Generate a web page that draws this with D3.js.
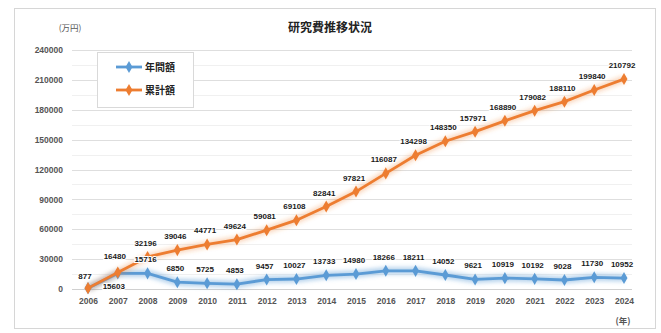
<!DOCTYPE html>
<html><head><meta charset="utf-8">
<script src="https://cdn.jsdelivr.net/npm/d3@7"></script>
<style>
html,body{margin:0;padding:0;background:#fff;}
svg{display:block;font-family:"Noto Sans CJK JP","Noto Sans",sans-serif;}
</style></head>
<body><svg id="chart" width="661" height="333"></svg>
<script>
// Years on the category axis
const years = [2006,2007,2008,2009,2010,2011,2012,2013,2014,2015,2016,2017,2018,2019,2020,2021,2022,2023,2024];
// Research funding received each year (万円)
const annual = [877,15603,15716,6850,5725,4853,9457,10027,13733,14980,18266,18211,14052,9621,10919,10192,9028,11730,10952];
// Running total (万円)
const cumulative = [877,16480,32196,39046,44771,49624,59081,69108,82841,97821,116087,134298,148350,157971,168890,179082,188110,199840,210792];
const yTicks = [0,30000,60000,90000,120000,150000,180000,210000,240000];
const yMinor = [15000,45000,75000,105000,135000,165000,195000,225000];
const seriesNames = ["年間額","累計額"];
const seriesColors = ["#5b9bd5","#ed7d31"];

const svg = d3.select("#chart");

// Outer frame
svg.append("rect").attr("x",14.5).attr("y",8.5).attr("width",641).attr("height",320)
  .attr("fill","#fff").attr("stroke","#d6d6d6");

const x = d3.scaleLinear().domain([2006,2024]).range([88,624]);
const y = d3.scaleLinear().domain([0,240000]).range([289,50]);
const gx0 = 72, gx1 = 632;

// Minor and major gridlines
svg.append("g").selectAll("line").data(yMinor).join("line")
  .attr("x1",gx0).attr("x2",gx1).attr("y1",d=>Math.round(y(d))+0.5).attr("y2",d=>Math.round(y(d))+0.5)
  .attr("stroke","#f0f0f0");
svg.append("g").selectAll("line").data(yTicks.filter(d=>d>0)).join("line")
  .attr("x1",gx0).attr("x2",gx1).attr("y1",d=>Math.round(y(d))+0.5).attr("y2",d=>Math.round(y(d))+0.5)
  .attr("stroke","#dedede");

// Y axis labels
const yAxis = d3.axisLeft(y).tickValues(yTicks).tickSize(0).tickPadding(0).tickFormat(d=>String(d));
const yg = svg.append("g").attr("transform","translate(63,0)").call(yAxis);
yg.select(".domain").remove();
yg.selectAll("text").attr("fill","#555").attr("font-size",8.5).attr("font-weight","bold")
  .attr("font-family","'Liberation Sans',sans-serif");

// X axis: baseline and year labels
const xAxis = d3.axisBottom(x).tickValues(years).tickSize(0).tickPadding(9).tickFormat(d=>String(d));
const xg = svg.append("g").attr("transform",`translate(0,${y(0)})`).call(xAxis);
xg.select(".domain").attr("d",`M${gx0},0.5H${gx1}`).attr("stroke","#d0d0d0");
xg.selectAll("text").attr("fill","#555").attr("font-size",8.5).attr("font-weight","bold")
  .attr("font-family","'Liberation Sans',sans-serif");

// Title and units
svg.append("text").attr("x",330).attr("y",32).attr("text-anchor","middle")
  .attr("font-size",12).attr("font-weight","bold").attr("fill","#222").text("研究費推移状況");
svg.append("text").attr("x",70).attr("y",31).attr("text-anchor","middle")
  .attr("font-size",8.5).attr("fill","#555").text("(万円)");
svg.append("text").attr("x",623).attr("y",324).attr("text-anchor","middle")
  .attr("font-size",8.5).attr("font-weight","bold").attr("fill","#555").text("(年)");

// Filter for the soft glow around each line
const defs = svg.append("defs");
defs.append("filter").attr("id","glow").attr("x","-10%").attr("y","-50%").attr("width","120%").attr("height","200%")
  .append("feGaussianBlur").attr("stdDeviation",2.2);

const line = d3.line().x((d,i)=>x(years[i])).y(d=>y(d));
const data = [annual, cumulative];

data.forEach((vals,k)=>{
  const g = svg.append("g");
  g.append("path").attr("d",line(vals)).attr("fill","none")
    .attr("stroke",seriesColors[k]).attr("stroke-width",7).attr("stroke-opacity",k===0?0.45:0.3)
    .attr("filter","url(#glow)");
  g.append("path").attr("d",line(vals)).attr("fill","none")
    .attr("stroke",seriesColors[k]).attr("stroke-width",2.8).attr("stroke-linejoin","round");
  g.selectAll("path.m").data(vals).join("path").attr("class","m")
    .attr("transform",(d,i)=>`translate(${x(years[i])},${y(d)})`)
    .attr("d",d3.symbol(d3.symbolDiamond,42)).attr("fill",seriesColors[k]);
});

// Data labels; the 2006 values coincide, so the running total shows no label there
function labels(vals, offsets, skip){
  svg.append("g").selectAll("text").data(vals.map((d,i)=>({d,i})).filter(o=>!skip.includes(o.i))).join("text")
    .attr("x",o=>x(years[o.i]) + (offsets[o.i]?offsets[o.i][0]:-2))
    .attr("y",o=>y(o.d) + (offsets[o.i]?offsets[o.i][1]:-11))
    .attr("text-anchor","middle").attr("font-size",8).attr("font-weight","bold")
    .attr("font-family","'Liberation Sans',sans-serif")
    .attr("fill","#1a1a1a").attr("stroke","#fff").attr("stroke-width",2).attr("paint-order","stroke")
    .text(o=>o.d);
}
labels(annual, {0:[-3,-9], 1:[-4,16]}, []);
labels(cumulative, {1:[-3,-14]}, [0]);

// Legend
const lg = svg.append("g");
lg.append("rect").attr("x",97.5).attr("y",52.5).attr("width",96).attr("height",55)
  .attr("fill","#fff").attr("stroke","#d9d9d9");
seriesNames.forEach((name,k)=>{
  const yy = 67 + k*23;
  lg.append("line").attr("x1",116).attr("x2",142).attr("y1",yy).attr("y2",yy)
    .attr("stroke",seriesColors[k]).attr("stroke-width",2.8);
  lg.append("path").attr("transform",`translate(129,${yy})`)
    .attr("d",d3.symbol(d3.symbolDiamond,42)).attr("fill",seriesColors[k]);
  lg.append("text").attr("x",145).attr("y",yy+4).attr("font-size",10).attr("font-weight","bold")
    .attr("fill","#222").text(name);
});
</script></body></html>
